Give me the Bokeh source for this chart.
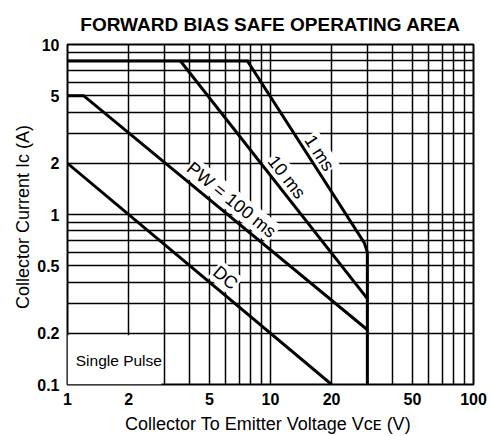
import numpy as np
from bokeh.plotting import figure
from bokeh.models import FixedTicker, ColumnDataSource, BoxAnnotation
from bokeh.core.properties import value
from bokeh.embed import file_html
from bokeh.resources import INLINE

# ---- data ----
x_ticks = [1, 2, 5, 10, 20, 50, 100]
x_tick_labels = ["1", "2", "5", "10", "20", "50", "100"]
y_ticks = [0.1, 0.2, 0.5, 1, 2, 5, 10]
y_tick_labels = ["0.1", "0.2", "0.5", "1", "2", "5", "10"]
x_grid = [1, 2, 3, 4, 5, 6, 7, 8, 9, 10, 20, 30, 40, 50, 60, 70, 80, 90, 100]
y_grid = [0.1, 0.2, 0.3, 0.4, 0.5, 0.6, 0.7, 0.8, 0.9,
          1, 2, 3, 4, 5, 6, 7, 8, 9, 10]

v_1ms = [1, 7.7, 29, 30, 30]
i_1ms = [8, 8, 0.68, 0.6, 0.1]
v_10ms = [3.6, 30]
i_10ms = [8, 0.32]
v_100ms = [1, 1.2, 30]
i_100ms = [5, 5, 0.21]
v_dc = [1, 20]
i_dc = [2, 0.1]

curve_labels = ["1 ms", "10 ms", "PW = 100 ms", "DC"]
label_v = [17.4, 12.0, 6.43, 6.0]
label_i = [2.3, 1.66, 1.22, 0.425]
label_angle_deg = [-57, -52, -39, -40]

note_text = ["Single Pulse"]
note_v = [1.79]
note_i = [0.139]

FONT = "Liberation Sans"

p = figure(width=492, height=436, x_axis_type="log", y_axis_type="log",
           x_range=(1, 100), y_range=(0.1, 10),
           output_backend="svg", toolbar_location=None,
           min_border_left=67, min_border_right=19,
           min_border_top=44, min_border_bottom=52)

p.title.text = "FORWARD BIAS SAFE OPERATING AREA"
p.title.align = "center"
p.title.text_font = FONT
p.title.text_font_size = "19px"
p.title.text_font_style = "bold"
p.title.text_color = "black"
p.title.standoff = 20

# grid
p.xgrid.ticker = FixedTicker(ticks=x_grid)
p.ygrid.ticker = FixedTicker(ticks=y_grid)
for g in (p.xgrid, p.ygrid):
    g.grid_line_color = "black"
    g.grid_line_width = 1.5
    g.grid_line_alpha = 1.0

# axes
p.xaxis.ticker = FixedTicker(ticks=x_ticks, minor_ticks=[])
p.yaxis.ticker = FixedTicker(ticks=y_ticks, minor_ticks=[])
p.xaxis.major_label_overrides = {float(t): s for t, s in zip(x_ticks, x_tick_labels)}
p.yaxis.major_label_overrides = {float(t): s for t, s in zip(y_ticks, y_tick_labels)}
p.xaxis.axis_label = "Collector To Emitter Voltage  V\u1d04\u1d07 (V)"
p.yaxis.axis_label = "Collector Current  I\u1d04 (A)"
for ax in (p.xaxis, p.yaxis):
    ax.axis_line_color = None
    ax.major_tick_line_color = None
    ax.minor_tick_line_color = None
    ax.major_tick_out = 0
    ax.major_tick_in = 0
    ax.major_label_text_font = FONT
    ax.major_label_text_font_style = "bold"
    ax.major_label_text_font_size = "16px"
    ax.major_label_text_color = "black"
    ax.axis_label_text_font = FONT
    ax.axis_label_text_font_style = "normal"
    ax.axis_label_text_font_size = "18px"
    ax.axis_label_text_color = "black"
p.xaxis.major_label_standoff = 8
p.xaxis.axis_label_standoff = 6
p.yaxis.major_label_standoff = 8
p.yaxis.axis_label_standoff = 1

p.outline_line_color = "black"
p.outline_line_width = 2
p.outline_line_alpha = 1.0
p.background_fill_color = "white"
p.border_fill_color = "white"

# blank area behind the "Single Pulse" note
p.add_layout(BoxAnnotation(left=1, right=2.9, bottom=0.1, top=0.195,
                           fill_color="white", fill_alpha=1.0,
                           line_color=None, level="underlay"))

# curve labels (drawn before curves so their white boxes only hide grid)
lab_src = ColumnDataSource(dict(x=label_v, y=label_i, text=curve_labels,
                                angle=list(np.radians(label_angle_deg))))
p.text(x="x", y="y", text="text", angle="angle", source=lab_src,
       text_align="center", text_baseline="middle",
       text_font=value(FONT), text_font_size="18px", text_color="black",
       background_fill_color="white", padding=1)

note_src = ColumnDataSource(dict(x=note_v, y=note_i, text=note_text))
p.text(x="x", y="y", text="text", source=note_src,
       text_align="center", text_baseline="middle",
       text_font=value(FONT), text_font_size="15.5px", text_color="black")

# curves
for vv, ii in ((v_1ms, i_1ms), (v_10ms, i_10ms), (v_100ms, i_100ms), (v_dc, i_dc)):
    p.line(vv, ii, line_width=3, line_color="black", line_join="miter")

open("out.html", "w").write(file_html(p, INLINE))
